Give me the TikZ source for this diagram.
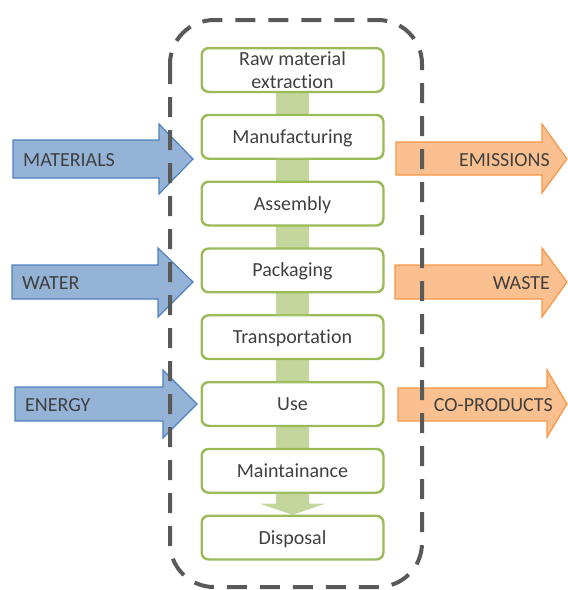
\documentclass[tikz,border=0pt]{standalone}
\usepackage{fontspec}
\setmainfont{Carlito}[Ligatures=NoCommon]
\usetikzlibrary{calc}
\definecolor{grn}{HTML}{9BBB59}
\definecolor{lgrn}{HTML}{C3D69B}
\definecolor{bfill}{HTML}{95B3D7}
\definecolor{bline}{HTML}{4F81BD}
\definecolor{ofill}{HTML}{FAC090}
\definecolor{oline}{HTML}{F79646}
\definecolor{txt}{HTML}{404040}
\definecolor{dash}{HTML}{595959}
\tikzset{
  stage/.style={draw=grn, line width=1.5pt, fill=white, rounded corners=7pt,
    minimum width=181pt, minimum height=43pt, text=txt,
    font=\fontsize{20}{23}\selectfont, align=center, inner sep=0pt},
  oneline/.style={text height=17pt, text depth=4pt},
  link/.style={fill=lgrn},
  inarrow/.style={fill=bfill, draw=bline, line width=1.2pt, line join=miter},
  outarrow/.style={fill=ofill, draw=oline, line width=1.2pt, line join=miter},
  flowlabel/.style={text=txt, font=\fontsize{20}{23}\selectfont, inner sep=0pt},
  boundary/.style={draw=dash, line width=4pt, dash pattern=on 20pt off 13pt, rounded corners=44pt}
}
\begin{document}
\begin{tikzpicture}[x=1pt,y=-1pt]
\useasboundingbox (0,0) rectangle (568,590);
% input arrows
\draw[inarrow] (13,140) -- (159,140) -- (159,124) -- (193,159) -- (159,194) -- (159,178) -- (13,178) -- cycle;
\node[flowlabel, anchor=west] (materials) at (23,160) {MATERIALS};
\draw[inarrow] (12,265) -- (158,265) -- (158,248) -- (193,282) -- (158,317) -- (158,299) -- (12,299) -- cycle;
\node[flowlabel, anchor=west] (water) at (22,283) {WATER};
\draw[inarrow] (15,387) -- (163,387) -- (163,370) -- (197,404) -- (163,438) -- (163,421) -- (15,421) -- cycle;
\node[flowlabel, anchor=west] (energy) at (25,405) {ENERGY};
% output arrows
\draw[outarrow] (396,142) -- (542,142) -- (542,124) -- (567,159) -- (542,193) -- (542,175) -- (396,175) -- cycle;
\node[flowlabel, anchor=east] (emissions) at (550,160) {EMISSIONS};
\draw[outarrow] (395,265) -- (542,265) -- (542,248) -- (567,282) -- (542,317) -- (542,299) -- (395,299) -- cycle;
\node[flowlabel, anchor=east] (waste) at (550,283) {WASTE};
\draw[outarrow] (398,388) -- (547,388) -- (547,370) -- (567,404) -- (547,437) -- (547,421) -- (398,421) -- cycle;
\node[flowlabel, anchor=east] (coproducts) at (553,405) {CO-PRODUCTS};
% stages
\node[stage] (s1) at (292.5,70) {Raw material\\extraction};
\node[stage, oneline] (s2) at (292.5,136.8) {Manufacturing};
\node[stage, oneline] (s3) at (292.5,203.6) {Assembly};
\node[stage, oneline] (s4) at (292.5,270.4) {Packaging};
\node[stage, oneline] (s5) at (292.5,337.2) {Transportation};
\node[stage, oneline] (s6) at (292.5,404) {Use};
\node[stage, oneline] (s7) at (292.5,470.8) {Maintainance};
\node[stage, oneline] (s8) at (292.5,537.6) {Disposal};
% links
\foreach \a/\b in {s1/s2,s2/s3,s3/s4,s4/s5,s5/s6,s6/s7}{
  \fill[link] ($(\a.south)+(-16.5,-0.75)$) rectangle ($(\b.north)+(16.5,0.75)$);
}
\fill[link] ($(s7.south)+(-16.5,-0.75)$) -- ($(s7.south)+(-16.5,10.5)$) -- ($(s7.south)+(-33,10.5)$)
  -- ($(s8.north)+(0,-0.5)$) -- ($(s7.south)+(33,10.5)$) -- ($(s7.south)+(16.5,10.5)$) -- ($(s7.south)+(16.5,-0.75)$) -- cycle;
% redraw stage outlines on top of links
\foreach \n in {s1,s2,s3,s4,s5,s6,s7,s8}{
  \draw[draw=grn, line width=1.5pt, rounded corners=7pt] (\n.north west) rectangle (\n.south east);
}
% boundary
\draw[boundary] (170,20) rectangle (422,587);
\end{tikzpicture}
\end{document}
